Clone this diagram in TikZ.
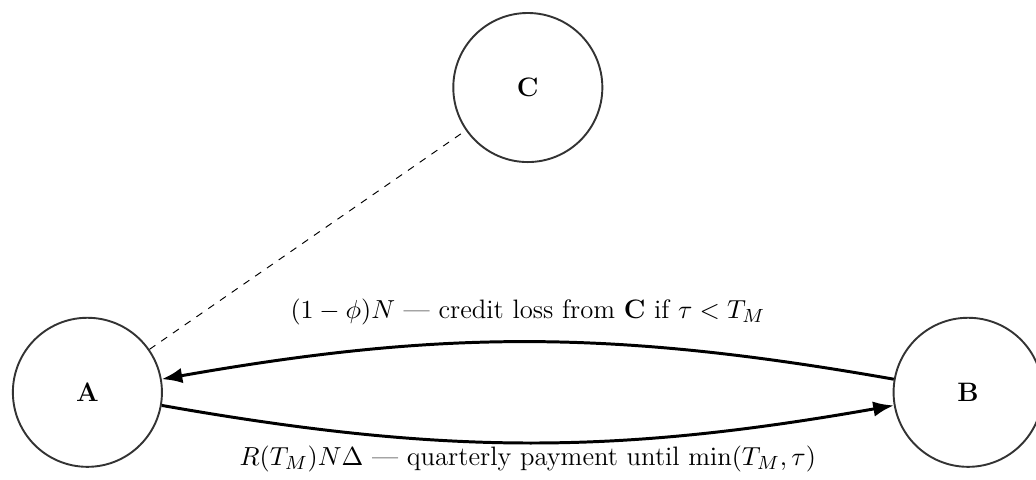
\documentclass[tikz,border=0pt]{standalone}
\usepackage{amsmath,amssymb}
\usepackage{xcolor}
\usepackage{tikz}
\usetikzlibrary{arrows.meta,shapes,positioning}

\begin{document}
\begin{tikzpicture}[node distance=1.4cm,
    party/.style={draw=black!80,circle,line width=0.8pt,minimum size=2.2cm,font=\fontsize{11.2}{13}\selectfont\bfseries},
    flow/.style={-{Latex},line width=1.25pt},
    lbl/.style={font=\fontsize{11.2}{13}\selectfont}]
  \useasboundingbox (-1.29,-1.29) rectangle (14.0,5.79);
  \node[party] (A) at (0,0) {A};
  \node[party,right=10.77cm of A] (B) {B};
  \node[party,above=2.27cm of A, xshift=6.5cm] (C) {C};
  \node[lbl] (loss) at (6.5,1.19) {$(1-\phi)N$ --- credit loss from \textbf{C} if $\tau < T_M$};
  \node[lbl] (coupon) at (6.5,-0.99) {$R(T_M)N\Delta$ --- quarterly payment until $\min(T_M,\tau)$};
  \draw[flow] (B) to[bend right=10] (A);
  \draw[flow] (A) to[bend right=10] (B);
  \draw[dashed] (A) -- (C);
\end{tikzpicture}
\end{document}
